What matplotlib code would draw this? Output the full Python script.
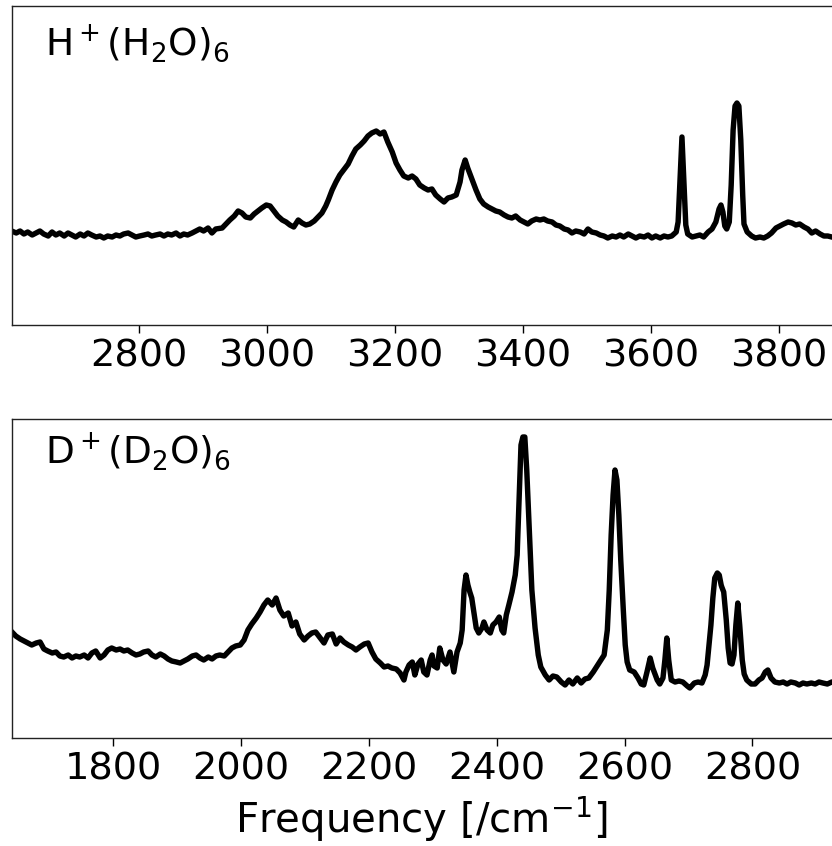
import matplotlib.pyplot as plt

# H+(H2O)6 spectrum, frequency [cm-1] / intensity [arb. units]
h_freq = [2601, 2608, 2614, 2620, 2626, 2633, 2639, 2645, 2651, 2658, 2664, 2670, 2676, 2683,
          2689, 2695, 2701, 2708, 2714, 2720, 2726, 2733, 2739, 2745, 2751, 2758, 2764, 2770,
          2776, 2783, 2789, 2795, 2801, 2808, 2814, 2820, 2826, 2833, 2839, 2845, 2851, 2858,
          2864, 2870, 2876, 2883, 2889, 2895, 2901, 2908, 2914, 2920, 2930, 2936, 2942, 2949,
          2955, 2961, 2967, 2974, 2980, 2986, 2992, 2999, 3005, 3011, 3017, 3024, 3030, 3036,
          3042, 3049, 3055, 3061, 3067, 3074, 3080, 3086, 3092, 3096, 3102, 3108, 3114, 3121,
          3127, 3133, 3139, 3146, 3152, 3158, 3164, 3171, 3177, 3183, 3189, 3196, 3202, 3208,
          3214, 3221, 3227, 3233, 3239, 3246, 3252, 3258, 3264, 3271, 3277, 3283, 3289, 3296,
          3302, 3305, 3310, 3314, 3321, 3327, 3333, 3339, 3346, 3352, 3358, 3364, 3371, 3377,
          3383, 3389, 3396, 3402, 3408, 3414, 3421, 3427, 3433, 3439, 3446, 3452, 3458, 3465,
          3471, 3477, 3483, 3490, 3496, 3502, 3508, 3515, 3521, 3527, 3533, 3540, 3546, 3552,
          3558, 3565, 3571, 3577, 3583, 3590, 3596, 3602, 3608, 3615, 3621, 3627, 3633, 3640,
          3643, 3646, 3649, 3652, 3655, 3658, 3665, 3671, 3677, 3683, 3690, 3696, 3702, 3707,
          3710, 3713, 3716, 3719, 3723, 3726, 3729, 3732, 3735, 3738, 3741, 3744, 3746, 3751,
          3758, 3764, 3771, 3777, 3783, 3789, 3796, 3802, 3808, 3815, 3821, 3827, 3833, 3840,
          3846, 3852, 3858, 3865, 3871, 3877, 3883, 3890, 3896]
h_int = [94, 92, 94, 91, 93, 90, 92, 94, 91, 89, 93, 90, 92, 89,
         92, 90, 88, 91, 89, 92, 90, 88, 89, 87, 89, 88, 90, 89,
         91, 92, 90, 88, 89, 90, 91, 89, 90, 91, 89, 91, 90, 92,
         89, 91, 90, 92, 94, 96, 94, 97, 92, 96, 97, 101, 105, 109,
         114, 112, 108, 107, 111, 114, 117, 120, 119, 114, 109, 105, 103, 100,
         98, 105, 102, 100, 101, 104, 108, 112, 119, 125, 135, 143, 150, 156,
         161, 169, 176, 180, 184, 189, 192, 194, 191, 193, 183, 173, 162, 155,
         149, 147, 149, 146, 140, 137, 135, 136, 130, 126, 123, 127, 128, 130,
         143, 155, 165, 157, 145, 135, 126, 121, 118, 116, 114, 113, 110, 108,
         107, 109, 105, 103, 101, 104, 106, 105, 106, 104, 103, 100, 99, 96,
         95, 92, 94, 93, 91, 96, 93, 92, 90, 89, 87, 89, 88, 90,
         88, 91, 89, 87, 89, 88, 90, 87, 89, 87, 89, 88, 89, 93,
         103, 145, 188, 145, 100, 91, 88, 89, 90, 88, 93, 96, 103, 116,
         120, 113, 99, 96, 103, 140, 195, 219, 222, 219, 185, 130, 101, 93,
         89, 87, 88, 87, 89, 92, 97, 99, 101, 103, 102, 100, 101, 98,
         96, 92, 94, 91, 89, 89, 88, 87, 88]

# D+(D2O)6 spectrum
d_freq = [1642, 1648, 1655, 1661, 1667, 1673, 1680, 1686, 1692, 1698, 1705, 1711, 1717, 1723,
          1730, 1736, 1742, 1748, 1755, 1761, 1767, 1773, 1780, 1786, 1792, 1798, 1805, 1811,
          1817, 1823, 1830, 1836, 1842, 1848, 1855, 1861, 1867, 1874, 1880, 1886, 1892, 1899,
          1905, 1911, 1917, 1924, 1930, 1936, 1942, 1949, 1955, 1961, 1967, 1974, 1980, 1986,
          1992, 1999, 2005, 2011, 2017, 2024, 2030, 2036, 2042, 2049, 2055, 2061, 2067, 2074,
          2080, 2086, 2092, 2099, 2105, 2111, 2117, 2124, 2130, 2136, 2143, 2149, 2155, 2161,
          2168, 2174, 2180, 2186, 2193, 2199, 2205, 2211, 2218, 2224, 2230, 2236, 2243, 2249,
          2255, 2258, 2263, 2268, 2272, 2277, 2282, 2286, 2291, 2296, 2299, 2302, 2307, 2311,
          2316, 2321, 2327, 2333, 2338, 2343, 2346, 2349, 2352, 2355, 2358, 2361, 2365, 2368,
          2372, 2377, 2380, 2385, 2390, 2394, 2399, 2404, 2408, 2411, 2415, 2419, 2424, 2429,
          2432, 2435, 2438, 2441, 2444, 2447, 2451, 2455, 2460, 2465, 2469, 2476, 2482, 2488,
          2494, 2501, 2507, 2513, 2519, 2526, 2532, 2538, 2544, 2551, 2557, 2563, 2568, 2573,
          2576, 2579, 2582, 2585, 2588, 2591, 2594, 2598, 2601, 2604, 2608, 2615, 2621, 2626,
          2630, 2635, 2640, 2644, 2651, 2655, 2660, 2663, 2666, 2669, 2673, 2679, 2685, 2691,
          2698, 2702, 2709, 2715, 2721, 2726, 2729, 2732, 2735, 2738, 2741, 2745, 2748, 2751,
          2752, 2755, 2759, 2762, 2765, 2768, 2771, 2774, 2777, 2780, 2784, 2787, 2791, 2798,
          2804, 2810, 2815, 2820, 2824, 2829, 2835, 2842, 2848, 2854, 2860, 2867, 2873, 2879,
          2885, 2892, 2898, 2904, 2910, 2917, 2924, 2931, 2937]
d_int = [106, 102, 99, 97, 95, 93, 95, 96, 89, 87, 85, 86, 82, 81,
         83, 80, 82, 81, 83, 80, 85, 87, 80, 83, 88, 90, 88, 89,
         87, 88, 85, 83, 84, 86, 87, 83, 81, 84, 82, 79, 77, 76,
         75, 77, 79, 82, 83, 80, 78, 81, 79, 82, 83, 82, 86, 90,
         92, 93, 98, 108, 114, 120, 126, 133, 138, 133, 140, 128, 122, 125,
         112, 116, 104, 98, 102, 105, 106, 100, 95, 103, 104, 94, 100, 96,
         93, 91, 88, 91, 94, 95, 86, 79, 75, 71, 72, 70, 69, 65,
         58, 66, 73, 76, 63, 74, 78, 66, 63, 78, 83, 72, 70, 90,
         78, 74, 86, 66, 86, 95, 108, 148, 163, 153, 146, 140, 123, 110,
         105, 110, 116, 108, 105, 113, 116, 121, 108, 105, 123, 133, 146, 163,
         183, 238, 293, 301, 301, 268, 208, 148, 110, 83, 71, 63, 58, 62,
         61, 56, 53, 58, 54, 60, 55, 59, 60, 66, 72, 78, 83, 108,
         148, 203, 243, 268, 258, 223, 178, 128, 93, 76, 68, 66, 60, 54,
         53, 66, 80, 70, 58, 54, 60, 78, 100, 78, 58, 56, 57, 56,
         52, 50, 55, 56, 55, 63, 73, 93, 113, 140, 160, 165, 163, 153,
         151, 146, 118, 90, 75, 74, 83, 113, 135, 113, 78, 64, 58, 54,
         54, 58, 60, 66, 68, 60, 56, 55, 56, 54, 56, 55, 53, 55,
         54, 55, 54, 56, 55, 54, 56, 55, 56]

W, H = 832, 846
fig = plt.figure(figsize=(W / 100, H / 100), dpi=100)

# axes run slightly past the right edge of the figure (cropped look)
ax1 = fig.add_axes([12 / W, (H - 325) / H, 840 / W, 319 / H])
ax2 = fig.add_axes([12 / W, (H - 738) / H, 840 / W, 319 / H])

ax1.plot(h_freq, h_int, color='black', lw=3.9)
ax2.plot(d_freq, d_int, color='black', lw=3.9)

ax1.set_xlim(2601.4, 3914.9)
ax2.set_xlim(1642.1, 2955.6)
ax1.set_xticks([2800, 3000, 3200, 3400, 3600, 3800])
ax2.set_xticks([1800, 2000, 2200, 2400, 2600, 2800])

for ax in (ax1, ax2):
    ax.set_ylim(0, 319)
    ax.set_yticks([])
    ax.tick_params(axis='x', labelsize=27.5, length=6, width=1, pad=4)
    for s in ax.spines.values():
        s.set_linewidth(1.0)
        s.set_color('#222222')

ax1.text(33 / 840, (325 - 55) / 319, r'H$^+$(H$_2$O)$_6$', transform=ax1.transAxes,
         fontsize=27, va='baseline')
ax2.text(33 / 840, (738 - 463) / 319, r'D$^+$(D$_2$O)$_6$', transform=ax2.transAxes,
         fontsize=27, va='baseline')

ax2.set_xlabel('Frequency [/cm$^{-1}$]', fontsize=29, va='baseline')
ax2.xaxis.set_label_coords(421 / W, 1 - 833 / H, transform=fig.transFigure)

plt.savefig('out.png', dpi=100)
